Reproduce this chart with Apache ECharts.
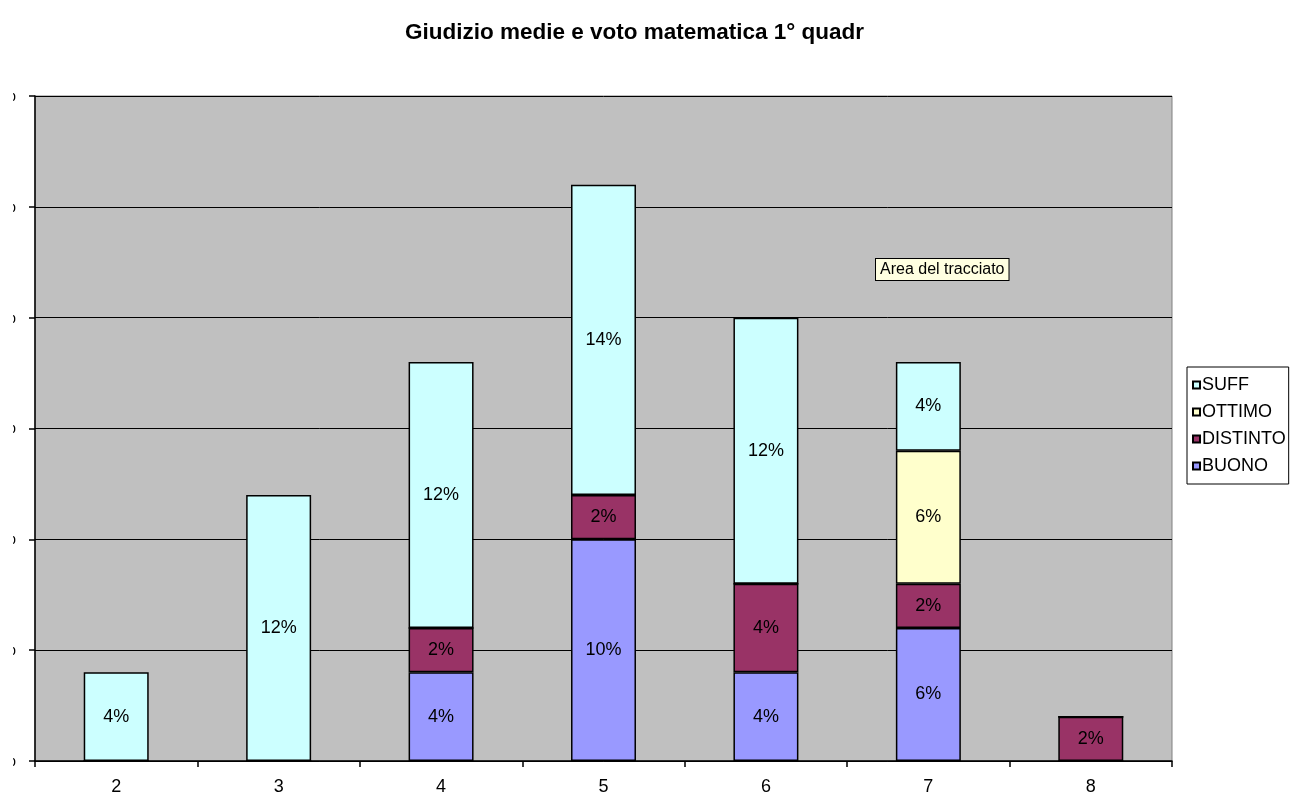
<!DOCTYPE html>
<html>
<head>
<meta charset="utf-8">
<script src="https://cdn.jsdelivr.net/npm/echarts@6/dist/echarts.min.js"></script>
<style>
  html, body { margin: 0; padding: 0; background: #fff; }
  #chart { width: 1292px; height: 796px; }
</style>
</head>
<body>
<div id="chart"></div>
<script>
// voto matematica 1° quadrimestre
const categories = ['2', '3', '4', '5', '6', '7', '8'];
const buono    = [0, 0, 4, 10, 4, 6, 0];
const distinto = [0, 0, 2, 2, 4, 2, 2];
const ottimo   = [0, 0, 0, 0, 0, 6, 0];
const suff     = [4, 12, 12, 14, 12, 4, 0];
const yTicks = [0, 5, 10, 15, 20, 25, 30];

const FONT = "'Liberation Sans', Arial, sans-serif";

const chart = echarts.init(document.getElementById('chart'));

const makeSeries = (name, data, color) => ({
  name: name,
  type: 'bar',
  stack: 'tot',
  barWidth: '40%',
  data: data,
  itemStyle: { color: color, borderColor: '#000', borderWidth: 1.5 },
  label: {
    show: true,
    position: 'inside',
    color: '#000',
    fontSize: 18,
    fontFamily: FONT,
    formatter: p => (p.value ? p.value + '%' : '')
  },
  emphasis: { disabled: true }
});

const option = {
  animation: false,
  textStyle: { fontFamily: FONT },
  title: {
    text: 'Giudizio medie e voto matematica 1° quadr',
    left: 400,
    top: 16,
    textStyle: { fontSize: 22.5, fontWeight: 'bold', color: '#000', fontFamily: FONT }
  },
  legend: {
    orient: 'vertical',
    left: 1187,
    top: 367,
    data: ['SUFF', 'OTTIMO', 'DISTINTO', 'BUONO'],
    icon: 'rect',
    itemWidth: 7,
    itemHeight: 7,
    itemGap: 9,
    padding: [9, 3, 9, 5],
    borderColor: '#000',
    borderWidth: 1,
    backgroundColor: '#fff',
    textStyle: { fontSize: 18, color: '#000', padding: [0, 0, 0, -3] }
  },
  grid: {
    left: 35,
    right: 120,
    top: 96,
    bottom: 35,
    containLabel: false,
    outerBoundsMode: 'none',
    show: true,
    backgroundColor: '#c0c0c0',
    borderColor: '#808080',
    borderWidth: 1
  },
  xAxis: {
    type: 'category',
    data: categories,
    axisLine: { lineStyle: { color: '#000', width: 1.5 } },
    axisTick: { show: true, alignWithLabel: false, length: 6, lineStyle: { color: '#000', width: 1.5 } },
    axisLabel: { color: '#000', fontSize: 18, margin: 17 },
    splitLine: { show: false }
  },
  yAxis: {
    type: 'value',
    min: yTicks[0],
    max: yTicks[yTicks.length - 1],
    interval: 5,
    axisLine: { show: true, lineStyle: { color: '#000', width: 1.5 } },
    axisTick: { show: true, length: 6, lineStyle: { color: '#000', width: 1.5 } },
    axisLabel: { color: '#000', fontSize: 18, margin: 19, formatter: '{value}%' },
    splitLine: { lineStyle: { color: '#000', width: 1 } }
  },
  graphic: [
    {
      // the value labels are cut off at the left edge in the original
      type: 'rect',
      z: 100,
      shape: { x: 0, y: 0, width: 13, height: 796 },
      style: { fill: '#fff' }
    },
    {
      type: 'text',
      z: 100,
      x: 876,
      y: 259,
      style: {
        text: 'Area del tracciato',
        font: '16px ' + FONT,
        fill: '#000',
        backgroundColor: '#ffffe1',
        borderColor: '#000',
        borderWidth: 1,
        padding: [3, 4, 2, 4]
      }
    }
  ],
  series: [
    makeSeries('BUONO', buono, '#9999ff'),
    makeSeries('DISTINTO', distinto, '#993366'),
    makeSeries('OTTIMO', ottimo, '#ffffcc'),
    makeSeries('SUFF', suff, '#ccffff')
  ]
};

chart.setOption(option);
window.addEventListener('resize', () => chart.resize());
</script>
</body>
</html>
